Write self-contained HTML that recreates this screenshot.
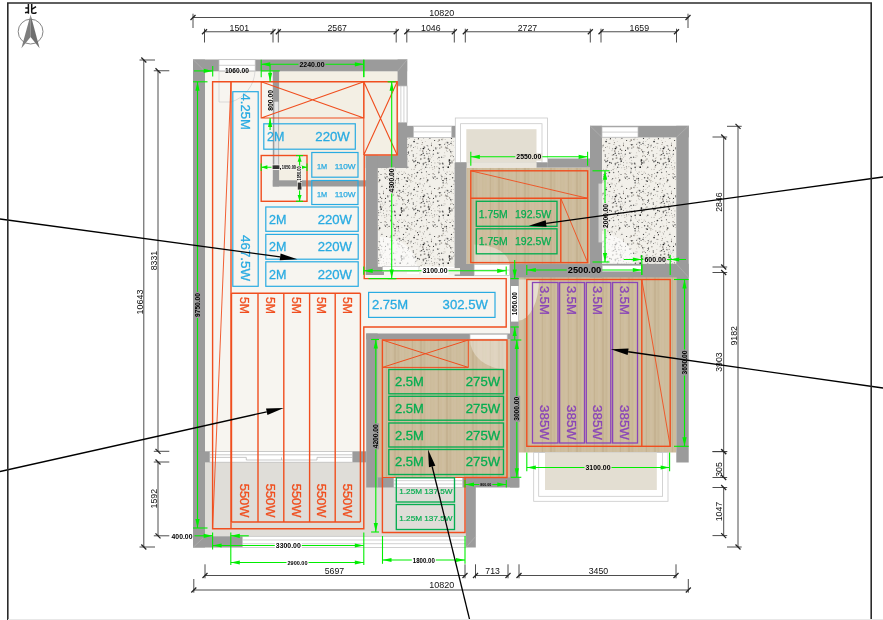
<!DOCTYPE html><html><head><meta charset="utf-8"><style>html,body{margin:0;padding:0;background:#fff}svg{display:block}</style></head><body><div style="will-change:transform;width:883px;height:620px"><svg width="883" height="620" viewBox="0 0 883 620" font-family="Liberation Sans, sans-serif"><g>
<defs>
<pattern id="tz" width="48" height="48" patternUnits="userSpaceOnUse">
<rect width="48" height="48" fill="#f2f0ea"/>
<circle cx="15.5" cy="7.2" r="0.3" fill="#333"/>
<circle cx="39.4" cy="4.5" r="0.85" fill="#1a1a1a"/>
<circle cx="43.7" cy="10.3" r="0.35" fill="#bdb8ae"/>
<circle cx="20.1" cy="11.6" r="0.75" fill="#bdb8ae"/>
<circle cx="2.8" cy="27.1" r="0.45" fill="#c4c0b8"/>
<circle cx="30.1" cy="45.5" r="0.85" fill="#2a2a2a"/>
<circle cx="19.0" cy="46.9" r="0.3" fill="#666"/>
<circle cx="41.2" cy="13.9" r="0.4" fill="#666"/>
<circle cx="5.7" cy="14.8" r="0.4" fill="#333"/>
<circle cx="27.9" cy="30.7" r="0.55" fill="#333"/>
<circle cx="26.3" cy="3.0" r="0.3" fill="#2a2a2a"/>
<circle cx="9.9" cy="32.7" r="0.6" fill="#444"/>
<circle cx="15.1" cy="28.1" r="0.65" fill="#aaa59c"/>
<circle cx="14.4" cy="38.1" r="0.45" fill="#333"/>
<circle cx="27.6" cy="25.2" r="0.55" fill="#b5b1aa"/>
<circle cx="21.5" cy="29.2" r="0.35" fill="#333"/>
<circle cx="24.6" cy="7.9" r="0.55" fill="#555"/>
<circle cx="44.8" cy="20.2" r="0.35" fill="#444"/>
<circle cx="26.8" cy="37.9" r="0.55" fill="#aaa59c"/>
<circle cx="33.4" cy="28.5" r="0.85" fill="#444"/>
<circle cx="21.9" cy="40.3" r="0.5" fill="#888078"/>
<circle cx="33.5" cy="3.1" r="0.5" fill="#c4c0b8"/>
<circle cx="27.7" cy="32.7" r="0.65" fill="#9a958c"/>
<circle cx="34.4" cy="42.6" r="0.55" fill="#1a1a1a"/>
<circle cx="45.2" cy="17.1" r="0.85" fill="#333"/>
<circle cx="23.7" cy="10.5" r="0.5" fill="#555"/>
<circle cx="35.4" cy="19.1" r="0.65" fill="#333"/>
<circle cx="8.0" cy="19.3" r="0.5" fill="#555"/>
<circle cx="39.3" cy="41.5" r="0.5" fill="#b5b1aa"/>
<circle cx="19.9" cy="17.2" r="0.6" fill="#777"/>
<circle cx="7.2" cy="8.5" r="0.45" fill="#c4c0b8"/>
<circle cx="11.2" cy="23.3" r="0.85" fill="#555"/>
<circle cx="12.6" cy="0.2" r="0.6" fill="#666"/>
<circle cx="17.7" cy="27.2" r="0.4" fill="#b5b1aa"/>
<circle cx="41.2" cy="45.6" r="0.3" fill="#888078"/>
<circle cx="43.2" cy="37.4" r="0.75" fill="#bdb8ae"/>
<circle cx="19.1" cy="18.9" r="0.65" fill="#c4c0b8"/>
<circle cx="19.2" cy="9.1" r="0.45" fill="#888078"/>
<circle cx="7.8" cy="16.3" r="0.3" fill="#333"/>
<circle cx="0.0" cy="7.3" r="0.35" fill="#aaa59c"/>
<circle cx="29.5" cy="3.4" r="0.45" fill="#2a2a2a"/>
<circle cx="18.1" cy="30.5" r="0.55" fill="#2a2a2a"/>
<circle cx="17.5" cy="5.9" r="0.65" fill="#888078"/>
<circle cx="23.1" cy="15.0" r="0.4" fill="#333"/>
<circle cx="36.0" cy="35.5" r="0.65" fill="#b5b1aa"/>
<circle cx="7.7" cy="1.1" r="0.75" fill="#aaa59c"/>
<circle cx="7.0" cy="26.1" r="0.3" fill="#444"/>
<circle cx="25.3" cy="47.0" r="0.35" fill="#b5b1aa"/>
<circle cx="40.6" cy="24.9" r="0.4" fill="#aaa59c"/>
<circle cx="37.1" cy="25.6" r="0.75" fill="#aaa59c"/>
<circle cx="30.5" cy="29.4" r="0.45" fill="#444"/>
<circle cx="11.5" cy="19.2" r="0.45" fill="#777"/>
<circle cx="24.8" cy="17.1" r="0.3" fill="#1a1a1a"/>
<circle cx="37.9" cy="22.7" r="0.45" fill="#b5b1aa"/>
<circle cx="29.0" cy="16.5" r="0.55" fill="#aaa59c"/>
<circle cx="3.9" cy="4.9" r="0.65" fill="#777"/>
<circle cx="16.2" cy="23.2" r="0.85" fill="#1a1a1a"/>
<circle cx="23.0" cy="31.3" r="0.35" fill="#c4c0b8"/>
<circle cx="5.8" cy="18.6" r="0.45" fill="#888078"/>
<circle cx="42.7" cy="20.8" r="0.55" fill="#333"/>
<circle cx="38.4" cy="46.6" r="0.6" fill="#888078"/>
<circle cx="19.3" cy="45.4" r="0.4" fill="#555"/>
<circle cx="47.7" cy="1.3" r="0.85" fill="#888078"/>
<circle cx="38.7" cy="7.0" r="0.85" fill="#888078"/>
<circle cx="31.5" cy="16.8" r="0.75" fill="#666"/>
<circle cx="6.3" cy="0.7" r="0.35" fill="#666"/>
<circle cx="36.0" cy="6.7" r="0.45" fill="#777"/>
<circle cx="1.3" cy="10.2" r="0.75" fill="#777"/>
<circle cx="36.7" cy="15.6" r="0.75" fill="#bdb8ae"/>
<circle cx="40.0" cy="2.9" r="0.55" fill="#888078"/>
<circle cx="31.8" cy="39.1" r="0.75" fill="#bdb8ae"/>
<circle cx="39.7" cy="42.2" r="0.4" fill="#666"/>
<circle cx="7.3" cy="24.5" r="0.65" fill="#444"/>
<circle cx="8.8" cy="0.2" r="0.4" fill="#555"/>
<circle cx="6.8" cy="29.7" r="0.35" fill="#666"/>
<circle cx="3.0" cy="32.8" r="0.75" fill="#666"/>
<circle cx="23.2" cy="37.3" r="0.75" fill="#1a1a1a"/>
<circle cx="11.9" cy="13.3" r="0.35" fill="#666"/>
<circle cx="21.7" cy="1.3" r="0.35" fill="#888078"/>
<circle cx="15.6" cy="46.7" r="0.85" fill="#666"/>
<circle cx="9.6" cy="13.3" r="0.75" fill="#666"/>
<circle cx="38.8" cy="24.4" r="0.45" fill="#b5b1aa"/>
<circle cx="25.1" cy="42.0" r="0.5" fill="#666"/>
<circle cx="42.9" cy="9.7" r="0.65" fill="#555"/>
<circle cx="20.0" cy="18.8" r="0.55" fill="#333"/>
<circle cx="32.2" cy="20.6" r="0.45" fill="#c4c0b8"/>
<circle cx="14.5" cy="5.9" r="0.4" fill="#b5b1aa"/>
<circle cx="30.9" cy="17.6" r="0.5" fill="#555"/>
<circle cx="46.4" cy="10.5" r="0.35" fill="#bdb8ae"/>
<circle cx="42.5" cy="7.8" r="0.45" fill="#555"/>
<circle cx="33.9" cy="47.7" r="0.6" fill="#aaa59c"/>
<circle cx="20.2" cy="17.1" r="0.35" fill="#b5b1aa"/>
<circle cx="17.6" cy="16.2" r="0.65" fill="#888078"/>
<circle cx="33.8" cy="18.4" r="0.75" fill="#2a2a2a"/>
<circle cx="14.2" cy="46.1" r="0.35" fill="#444"/>
<circle cx="11.0" cy="42.1" r="0.35" fill="#9a958c"/>
<circle cx="13.1" cy="43.5" r="0.4" fill="#9a958c"/>
<circle cx="36.3" cy="39.3" r="0.5" fill="#bdb8ae"/>
<circle cx="7.2" cy="44.1" r="0.85" fill="#888078"/>
<circle cx="33.6" cy="4.3" r="0.3" fill="#444"/>
<circle cx="33.0" cy="20.4" r="0.35" fill="#9a958c"/>
<circle cx="45.0" cy="30.5" r="0.5" fill="#333"/>
<circle cx="29.2" cy="10.7" r="0.5" fill="#333"/>
<circle cx="21.8" cy="16.3" r="0.75" fill="#bdb8ae"/>
<circle cx="44.5" cy="12.9" r="0.4" fill="#1a1a1a"/>
<circle cx="25.3" cy="11.4" r="0.35" fill="#555"/>
<circle cx="12.6" cy="8.7" r="0.5" fill="#c4c0b8"/>
<circle cx="14.6" cy="36.5" r="0.5" fill="#888078"/>
<circle cx="24.0" cy="8.5" r="0.55" fill="#444"/>
<circle cx="0.9" cy="12.0" r="0.3" fill="#1a1a1a"/>
<circle cx="35.2" cy="26.5" r="0.45" fill="#666"/>
<circle cx="22.8" cy="44.9" r="0.35" fill="#c4c0b8"/>
<circle cx="39.3" cy="20.7" r="0.65" fill="#666"/>
<circle cx="40.1" cy="18.9" r="0.75" fill="#9a958c"/>
<circle cx="33.0" cy="47.2" r="0.55" fill="#777"/>
<circle cx="39.9" cy="33.9" r="0.4" fill="#bdb8ae"/>
<circle cx="47.5" cy="47.1" r="0.4" fill="#1a1a1a"/>
<circle cx="3.4" cy="35.6" r="0.5" fill="#bdb8ae"/>
<circle cx="7.8" cy="4.1" r="0.6" fill="#666"/>
<circle cx="32.2" cy="13.5" r="0.45" fill="#b5b1aa"/>
<circle cx="14.1" cy="22.1" r="0.4" fill="#9a958c"/>
<circle cx="21.4" cy="12.6" r="0.55" fill="#666"/>
<circle cx="15.5" cy="1.7" r="0.5" fill="#777"/>
<circle cx="17.1" cy="0.1" r="0.6" fill="#333"/>
<circle cx="22.8" cy="24.1" r="0.45" fill="#777"/>
<circle cx="24.2" cy="0.2" r="0.5" fill="#333"/>
<circle cx="6.9" cy="28.2" r="0.6" fill="#1a1a1a"/>
<circle cx="14.4" cy="30.2" r="0.35" fill="#2a2a2a"/>
<circle cx="46.0" cy="41.0" r="0.4" fill="#c4c0b8"/>
<circle cx="42.9" cy="37.6" r="0.85" fill="#bdb8ae"/>
<circle cx="36.7" cy="34.6" r="0.65" fill="#555"/>
<circle cx="13.6" cy="29.7" r="0.4" fill="#1a1a1a"/>
<circle cx="39.6" cy="34.3" r="0.75" fill="#c4c0b8"/>
<circle cx="20.6" cy="33.7" r="0.75" fill="#555"/>
<circle cx="43.7" cy="36.1" r="0.85" fill="#444"/>
<circle cx="0.8" cy="33.0" r="0.45" fill="#333"/>
<circle cx="1.5" cy="6.4" r="0.55" fill="#333"/>
<circle cx="18.1" cy="21.7" r="0.3" fill="#c4c0b8"/>
<circle cx="0.9" cy="25.5" r="0.45" fill="#888078"/>
<circle cx="12.7" cy="21.9" r="0.35" fill="#b5b1aa"/>
<circle cx="44.8" cy="43.1" r="0.35" fill="#c4c0b8"/>
<circle cx="25.2" cy="35.8" r="0.65" fill="#9a958c"/>
<circle cx="38.8" cy="40.6" r="0.45" fill="#b5b1aa"/>
<circle cx="36.3" cy="11.1" r="0.65" fill="#888078"/>
<circle cx="40.6" cy="3.7" r="0.5" fill="#444"/>
<circle cx="2.2" cy="30.4" r="0.45" fill="#333"/>
<circle cx="28.8" cy="15.9" r="0.5" fill="#2a2a2a"/>
<circle cx="27.3" cy="0.6" r="0.3" fill="#888078"/>
<circle cx="12.9" cy="32.3" r="0.45" fill="#c4c0b8"/>
<circle cx="23.5" cy="34.0" r="0.5" fill="#888078"/>
<circle cx="22.4" cy="36.8" r="0.75" fill="#777"/>
<circle cx="15.0" cy="4.1" r="0.65" fill="#1a1a1a"/>
<circle cx="13.9" cy="3.7" r="0.75" fill="#888078"/>
<circle cx="47.7" cy="18.6" r="0.45" fill="#333"/>
<circle cx="27.9" cy="6.8" r="0.75" fill="#9a958c"/>
<circle cx="45.7" cy="6.4" r="0.75" fill="#9a958c"/>
<circle cx="42.6" cy="33.8" r="0.45" fill="#888078"/>
<circle cx="43.1" cy="23.3" r="0.3" fill="#555"/>
<circle cx="0.2" cy="23.6" r="0.65" fill="#bdb8ae"/>
<circle cx="14.5" cy="6.8" r="0.55" fill="#bdb8ae"/>
<circle cx="15.2" cy="40.3" r="0.3" fill="#aaa59c"/>
<circle cx="36.0" cy="40.3" r="0.35" fill="#777"/>
<circle cx="34.2" cy="43.3" r="0.5" fill="#9a958c"/>
<circle cx="17.9" cy="18.9" r="0.85" fill="#333"/>
<circle cx="17.3" cy="20.5" r="0.5" fill="#1a1a1a"/>
<circle cx="13.5" cy="2.5" r="0.5" fill="#c4c0b8"/>
<circle cx="44.9" cy="12.0" r="0.5" fill="#bdb8ae"/>
<circle cx="24.5" cy="9.1" r="0.55" fill="#444"/>
<circle cx="45.9" cy="42.4" r="0.6" fill="#666"/>
<circle cx="26.4" cy="34.5" r="0.3" fill="#b5b1aa"/>
<circle cx="19.7" cy="29.5" r="0.4" fill="#c4c0b8"/>
<circle cx="41.7" cy="23.3" r="0.75" fill="#555"/>
<circle cx="8.2" cy="19.9" r="0.5" fill="#9a958c"/>
<circle cx="12.3" cy="35.5" r="0.5" fill="#bdb8ae"/>
<circle cx="31.5" cy="14.4" r="0.75" fill="#c4c0b8"/>
<circle cx="18.9" cy="8.0" r="0.4" fill="#333"/>
<circle cx="10.0" cy="43.5" r="0.65" fill="#666"/>
<circle cx="10.6" cy="43.5" r="0.65" fill="#bdb8ae"/>
<circle cx="6.7" cy="9.2" r="0.35" fill="#555"/>
<circle cx="16.4" cy="4.4" r="0.45" fill="#aaa59c"/>
<circle cx="12.4" cy="27.3" r="0.3" fill="#b5b1aa"/>
<circle cx="41.8" cy="18.4" r="0.75" fill="#777"/>
<circle cx="18.1" cy="16.2" r="0.3" fill="#888078"/>
<circle cx="13.3" cy="46.4" r="0.4" fill="#c4c0b8"/>
<circle cx="24.2" cy="30.2" r="0.45" fill="#333"/>
<circle cx="13.0" cy="11.9" r="0.6" fill="#c4c0b8"/>
<circle cx="21.4" cy="45.8" r="0.3" fill="#555"/>
<circle cx="1.5" cy="34.1" r="0.65" fill="#2a2a2a"/>
<circle cx="23.5" cy="3.5" r="0.75" fill="#888078"/>
<circle cx="46.7" cy="11.9" r="0.35" fill="#777"/>
<circle cx="7.4" cy="25.1" r="0.35" fill="#b5b1aa"/>
<circle cx="33.6" cy="40.6" r="0.65" fill="#333"/>
<circle cx="26.5" cy="1.9" r="0.4" fill="#777"/>
<circle cx="27.3" cy="1.8" r="0.5" fill="#555"/>
<circle cx="30.1" cy="25.4" r="0.6" fill="#b5b1aa"/>
<circle cx="36.7" cy="4.8" r="0.5" fill="#666"/>
<circle cx="45.3" cy="9.2" r="0.5" fill="#777"/>
<circle cx="37.9" cy="0.1" r="0.75" fill="#9a958c"/>
<circle cx="47.8" cy="13.4" r="0.55" fill="#c4c0b8"/>
<circle cx="40.3" cy="11.6" r="0.75" fill="#777"/>
<circle cx="26.3" cy="1.4" r="0.6" fill="#b5b1aa"/>
<circle cx="31.2" cy="2.7" r="0.45" fill="#888078"/>
<circle cx="42.5" cy="31.1" r="0.35" fill="#9a958c"/>
<circle cx="10.9" cy="20.4" r="0.55" fill="#777"/>
<circle cx="23.7" cy="33.4" r="0.6" fill="#aaa59c"/>
<circle cx="32.8" cy="9.5" r="0.5" fill="#b5b1aa"/>
<circle cx="40.6" cy="3.2" r="0.65" fill="#777"/>
<circle cx="15.0" cy="39.4" r="0.45" fill="#888078"/>
<circle cx="10.6" cy="36.5" r="0.5" fill="#333"/>
<circle cx="45.7" cy="23.8" r="0.4" fill="#777"/>
<circle cx="23.3" cy="43.7" r="0.3" fill="#2a2a2a"/>
<circle cx="7.0" cy="18.9" r="0.45" fill="#1a1a1a"/>
<circle cx="46.8" cy="6.8" r="0.3" fill="#b5b1aa"/>
<circle cx="2.9" cy="18.9" r="0.55" fill="#b5b1aa"/>
<circle cx="5.4" cy="3.8" r="0.4" fill="#aaa59c"/>
<circle cx="9.2" cy="31.3" r="0.75" fill="#b5b1aa"/>
<circle cx="22.4" cy="15.0" r="0.6" fill="#aaa59c"/>
<circle cx="47.3" cy="21.2" r="0.35" fill="#1a1a1a"/>
<circle cx="3.8" cy="3.9" r="0.6" fill="#333"/>
<circle cx="26.9" cy="36.4" r="0.6" fill="#aaa59c"/>
<circle cx="36.9" cy="14.8" r="0.6" fill="#333"/>
<circle cx="2.4" cy="22.7" r="0.55" fill="#666"/>
<circle cx="44.1" cy="9.3" r="0.55" fill="#b5b1aa"/>
<circle cx="43.1" cy="1.5" r="0.6" fill="#777"/>
<circle cx="39.0" cy="36.8" r="0.3" fill="#bdb8ae"/>
<circle cx="1.7" cy="3.0" r="0.3" fill="#9a958c"/>
<circle cx="9.4" cy="3.0" r="0.85" fill="#aaa59c"/>
<circle cx="17.4" cy="16.1" r="0.85" fill="#1a1a1a"/>
<circle cx="12.6" cy="34.4" r="0.55" fill="#9a958c"/>
<circle cx="14.3" cy="34.6" r="0.85" fill="#444"/>
<circle cx="30.4" cy="45.3" r="0.3" fill="#777"/>
<circle cx="5.1" cy="34.3" r="0.65" fill="#444"/>
<circle cx="18.6" cy="12.1" r="0.6" fill="#888078"/>
<circle cx="6.4" cy="23.8" r="0.3" fill="#444"/>
<circle cx="44.7" cy="14.6" r="0.4" fill="#2a2a2a"/>
<circle cx="11.3" cy="41.3" r="0.65" fill="#aaa59c"/>
<circle cx="37.6" cy="28.6" r="0.75" fill="#777"/>
<circle cx="18.8" cy="7.7" r="0.6" fill="#333"/>
<circle cx="31.2" cy="23.1" r="0.75" fill="#aaa59c"/>
<circle cx="7.7" cy="20.5" r="0.35" fill="#333"/>
<circle cx="12.7" cy="4.0" r="0.35" fill="#bdb8ae"/>
<circle cx="23.9" cy="34.1" r="0.65" fill="#555"/>
<circle cx="11.2" cy="20.0" r="0.85" fill="#c4c0b8"/>
<circle cx="11.3" cy="25.9" r="0.35" fill="#444"/>
<circle cx="40.4" cy="14.1" r="0.85" fill="#9a958c"/>
<circle cx="17.9" cy="35.4" r="0.45" fill="#888078"/>
<circle cx="11.9" cy="11.8" r="0.4" fill="#9a958c"/>
<circle cx="42.4" cy="27.8" r="0.55" fill="#333"/>
<circle cx="19.0" cy="47.6" r="0.75" fill="#666"/>
<circle cx="11.1" cy="38.8" r="0.65" fill="#1a1a1a"/>
<circle cx="4.9" cy="22.8" r="0.45" fill="#888078"/>
<circle cx="43.9" cy="1.9" r="0.5" fill="#777"/>
<circle cx="5.7" cy="9.1" r="0.85" fill="#777"/>
<circle cx="44.6" cy="17.9" r="0.4" fill="#888078"/>
<circle cx="28.9" cy="37.2" r="0.3" fill="#333"/>
<circle cx="30.6" cy="34.1" r="0.55" fill="#777"/>
<circle cx="1.8" cy="16.3" r="0.3" fill="#777"/>
<circle cx="48.0" cy="1.8" r="0.45" fill="#1a1a1a"/>
<circle cx="39.3" cy="19.6" r="0.55" fill="#555"/>
<circle cx="29.8" cy="3.7" r="0.3" fill="#444"/>
<circle cx="23.8" cy="23.2" r="0.6" fill="#333"/>
<circle cx="38.2" cy="31.9" r="0.4" fill="#c4c0b8"/>
<circle cx="25.6" cy="31.3" r="0.6" fill="#b5b1aa"/>
<circle cx="13.0" cy="47.4" r="0.5" fill="#bdb8ae"/>
<circle cx="45.8" cy="15.0" r="0.85" fill="#aaa59c"/>
<circle cx="19.9" cy="0.9" r="0.55" fill="#c4c0b8"/>
<circle cx="9.5" cy="34.9" r="0.45" fill="#1a1a1a"/>
<circle cx="20.8" cy="7.5" r="0.35" fill="#333"/>
<circle cx="19.5" cy="42.4" r="0.65" fill="#444"/>
<circle cx="7.8" cy="0.7" r="0.75" fill="#555"/>
<circle cx="30.8" cy="43.7" r="0.35" fill="#2a2a2a"/>
<circle cx="29.9" cy="17.8" r="0.75" fill="#555"/>
<circle cx="7.0" cy="13.6" r="0.75" fill="#555"/>
<circle cx="44.4" cy="5.2" r="0.65" fill="#444"/>
<circle cx="38.6" cy="46.4" r="0.45" fill="#9a958c"/>
<circle cx="6.1" cy="45.3" r="0.65" fill="#aaa59c"/>
<circle cx="2.6" cy="44.5" r="0.6" fill="#333"/>
<circle cx="43.4" cy="29.8" r="0.4" fill="#c4c0b8"/>
<circle cx="37.7" cy="10.7" r="0.6" fill="#2a2a2a"/>
<circle cx="40.6" cy="39.8" r="0.4" fill="#2a2a2a"/>
<circle cx="10.5" cy="19.2" r="0.75" fill="#555"/>
<circle cx="18.4" cy="5.9" r="0.45" fill="#b5b1aa"/>
<circle cx="39.2" cy="9.2" r="0.75" fill="#444"/>
<circle cx="32.3" cy="32.1" r="0.55" fill="#333"/>
<circle cx="18.7" cy="21.9" r="0.5" fill="#c4c0b8"/>
<circle cx="20.2" cy="28.0" r="0.6" fill="#bdb8ae"/>
<circle cx="31.6" cy="21.4" r="0.65" fill="#555"/>
<circle cx="1.1" cy="29.7" r="0.65" fill="#888078"/>
<circle cx="11.3" cy="36.7" r="0.65" fill="#555"/>
<circle cx="38.9" cy="19.2" r="0.35" fill="#555"/>
<circle cx="17.2" cy="17.5" r="0.65" fill="#666"/>
<circle cx="24.5" cy="2.0" r="0.4" fill="#333"/>
<circle cx="44.3" cy="15.1" r="0.75" fill="#333"/>
<circle cx="2.6" cy="24.2" r="0.6" fill="#c4c0b8"/>
<circle cx="45.6" cy="6.5" r="0.35" fill="#2a2a2a"/>
<circle cx="35.1" cy="39.1" r="0.45" fill="#555"/>
<circle cx="47.1" cy="23.6" r="0.4" fill="#c4c0b8"/>
<circle cx="37.8" cy="44.7" r="0.35" fill="#aaa59c"/>
<circle cx="29.3" cy="12.1" r="0.55" fill="#2a2a2a"/>
<circle cx="13.2" cy="39.2" r="0.4" fill="#9a958c"/>
</pattern>
<pattern id="wd" width="26" height="40" patternUnits="userSpaceOnUse">
<rect width="26" height="40" fill="#ccbb9b"/>
<rect x="0.0" y="0" width="2.5" height="40" fill="#d1c1a3" opacity="0.55"/>
<rect x="4.0" y="0" width="2" height="40" fill="#bfab89" opacity="0.55"/>
<rect x="7.5" y="0" width="1.5" height="40" fill="#c5b391" opacity="0.55"/>
<rect x="10.0" y="0" width="1" height="40" fill="#d1c1a3" opacity="0.55"/>
<rect x="11.5" y="0" width="2.5" height="40" fill="#d1c1a3" opacity="0.55"/>
<rect x="15.5" y="0" width="2" height="40" fill="#cfbfa0" opacity="0.55"/>
<rect x="18.5" y="0" width="2.5" height="40" fill="#d1c1a3" opacity="0.55"/>
<rect x="22.0" y="0" width="1" height="40" fill="#bfab89" opacity="0.55"/>
<rect x="23.5" y="0" width="2" height="40" fill="#cdbc9d" opacity="0.55"/>
</pattern>
</defs>
<rect x="0.00" y="0.00" width="883.00" height="620.00" fill="#ffffff" />
<rect x="193.00" y="59.50" width="214.00" height="488.00" fill="#f7f5f0" />
<rect x="279.00" y="71.50" width="119.00" height="109.00" fill="#f3efe4" />
<rect x="364.00" y="274.00" width="148.00" height="61.00" fill="#f7f5f0" />
<rect x="205.00" y="462.30" width="161.50" height="74.20" fill="#dfddd8" />
<rect x="364.00" y="487.00" width="102.00" height="49.50" fill="#dfddd8" />
<path d="M407.2 137.5H454.6V267H378V167.9H407.2Z" fill="url(#tz)"/>
<rect x="601.80" y="137.30" width="74.50" height="126.70" fill="url(#tz)" />
<rect x="466.30" y="167.60" width="123.70" height="97.40" fill="url(#wd)" />
<rect x="518.70" y="277.00" width="157.60" height="175.50" fill="url(#wd)" />
<rect x="377.50" y="339.30" width="132.70" height="138.00" fill="url(#wd)" />
<rect x="455.30" y="118.00" width="92.20" height="44.60" fill="#ffffff" stroke="#c9c9c9" stroke-width="0.8"/>
<rect x="460.60" y="123.70" width="81.40" height="38.90" fill="none" stroke="#c9c9c9" stroke-width="0.8" />
<rect x="466.30" y="129.20" width="70.20" height="33.40" fill="#e3ded2" />
<rect x="466.30" y="162.50" width="70.20" height="5.10" fill="#e9e5dc" />
<rect x="533.70" y="452.50" width="134.30" height="48.80" fill="#ffffff" stroke="#c9c9c9" stroke-width="0.8"/>
<rect x="538.70" y="452.50" width="123.90" height="43.80" fill="none" stroke="#c9c9c9" stroke-width="0.8" />
<rect x="545.00" y="452.50" width="111.80" height="37.50" fill="#e3ded2" />
<path d="M474.4 264.5 V244.5 A35 20 0 0 1 509.4 264.5Z" fill="#fff" opacity="0.4"/>
<path d="M518.7 279.5 H539 A20.5 41 0 0 1 518.7 320.5Z" fill="#fff" opacity="0.5"/>
<path d="M470 339.5 H507 V369.5 A37 30 0 0 1 470 339.5Z" fill="#fff" opacity="0.35"/>
<path d="M380 267 V237 A37 30 0 0 1 417 267Z" fill="#fff" opacity="0.6"/>
<path d="M602 264 V234 A33 30 0 0 1 635 264Z" fill="#fff" opacity="0.6"/>
<rect x="193.00" y="59.50" width="12.00" height="488.00" fill="#9b9b9b" />
<rect x="193.00" y="59.50" width="214.20" height="11.80" fill="#9b9b9b" />
<rect x="397.60" y="59.50" width="9.60" height="108.50" fill="#9b9b9b" />
<rect x="365.80" y="155.60" width="41.40" height="12.40" fill="#9b9b9b" />
<rect x="365.80" y="155.60" width="12.00" height="119.40" fill="#9b9b9b" />
<rect x="272.80" y="71.00" width="6.30" height="115.50" fill="#9b9b9b" />
<rect x="272.80" y="180.30" width="93.20" height="6.20" fill="#9b9b9b" />
<rect x="407.00" y="125.80" width="48.20" height="11.80" fill="#9b9b9b" />
<rect x="454.60" y="162.80" width="11.80" height="113.20" fill="#9b9b9b" />
<rect x="365.80" y="266.80" width="18.20" height="8.20" fill="#9b9b9b" />
<rect x="460.00" y="264.00" width="14.00" height="12.00" fill="#9b9b9b" />
<rect x="547.90" y="158.50" width="42.10" height="9.10" fill="#9b9b9b" />
<rect x="455.00" y="162.50" width="11.40" height="5.10" fill="#9b9b9b" />
<rect x="536.50" y="162.50" width="11.40" height="5.10" fill="#9b9b9b" />
<rect x="590.00" y="125.80" width="12.00" height="151.70" fill="#9b9b9b" />
<rect x="590.00" y="125.80" width="98.70" height="11.60" fill="#9b9b9b" />
<rect x="676.30" y="125.80" width="12.40" height="336.70" fill="#9b9b9b" />
<rect x="510.00" y="263.80" width="178.70" height="13.60" fill="#9b9b9b" />
<rect x="510.00" y="264.00" width="8.80" height="223.50" fill="#9b9b9b" />
<rect x="366.20" y="333.50" width="144.00" height="5.90" fill="#9b9b9b" />
<rect x="366.20" y="333.50" width="11.40" height="154.00" fill="#9b9b9b" />
<rect x="193.00" y="451.30" width="17.00" height="11.10" fill="#9b9b9b" />
<rect x="352.50" y="451.30" width="13.80" height="11.10" fill="#9b9b9b" />
<rect x="377.50" y="477.20" width="16.50" height="10.30" fill="#9b9b9b" />
<rect x="462.50" y="477.20" width="57.00" height="10.30" fill="#9b9b9b" />
<rect x="465.80" y="487.00" width="10.00" height="60.50" fill="#9b9b9b" />
<rect x="193.00" y="536.30" width="49.50" height="11.20" fill="#9b9b9b" />
<line x1="193.00" y1="59.50" x2="205.00" y2="71.30" stroke="#b4b4b4" stroke-width="0.6" />
<line x1="193.00" y1="547.50" x2="205.00" y2="536.30" stroke="#b4b4b4" stroke-width="0.6" />
<line x1="407.20" y1="59.50" x2="397.60" y2="71.30" stroke="#b4b4b4" stroke-width="0.6" />
<line x1="590.00" y1="125.80" x2="602.00" y2="137.40" stroke="#b4b4b4" stroke-width="0.6" />
<line x1="688.70" y1="125.80" x2="676.30" y2="137.40" stroke="#b4b4b4" stroke-width="0.6" />
<line x1="688.70" y1="277.40" x2="676.30" y2="263.80" stroke="#b4b4b4" stroke-width="0.6" />
<line x1="465.80" y1="547.50" x2="475.80" y2="536.30" stroke="#b4b4b4" stroke-width="0.6" />
<rect x="598.50" y="183.60" width="3.50" height="58.80" fill="#d2d2d0" />
<rect x="219.00" y="59.70" width="36.20" height="11.20" fill="#ffffff" stroke="#bdbdbd" stroke-width="0.7"/>
<line x1="219.00" y1="65.30" x2="255.20" y2="65.30" stroke="#bdbdbd" stroke-width="0.7" />
<rect x="397.80" y="86.00" width="9.20" height="36.50" fill="#ffffff" stroke="#bdbdbd" stroke-width="0.7"/>
<line x1="400.87" y1="86.00" x2="400.87" y2="122.50" stroke="#bdbdbd" stroke-width="0.7" />
<line x1="403.93" y1="86.00" x2="403.93" y2="122.50" stroke="#bdbdbd" stroke-width="0.7" />
<rect x="413.40" y="126.30" width="38.30" height="11.20" fill="#ffffff" stroke="#bdbdbd" stroke-width="0.7"/>
<line x1="413.40" y1="131.90" x2="451.70" y2="131.90" stroke="#bdbdbd" stroke-width="0.7" />
<rect x="602.00" y="127.00" width="36.00" height="10.20" fill="#ffffff" stroke="#bdbdbd" stroke-width="0.7"/>
<line x1="602.00" y1="132.10" x2="638.00" y2="132.10" stroke="#bdbdbd" stroke-width="0.7" />
<rect x="474.20" y="264.60" width="35.30" height="11.00" fill="#ffffff" stroke="#bdbdbd" stroke-width="0.7"/>
<line x1="474.20" y1="270.10" x2="509.50" y2="270.10" stroke="#bdbdbd" stroke-width="0.7" />
<rect x="382.50" y="266.50" width="36.50" height="5.00" fill="#ffffff" stroke="#bdbdbd" stroke-width="0.7"/>
<rect x="419.00" y="268.00" width="41.00" height="6.50" fill="#f1efea" />
<rect x="602.00" y="265.50" width="39.50" height="6.10" fill="#ffffff" stroke="#bdbdbd" stroke-width="0.7"/>
<rect x="470.00" y="334.30" width="37.20" height="4.90" fill="#ffffff" stroke="#bdbdbd" stroke-width="0.7"/>
<rect x="209.80" y="451.40" width="142.70" height="10.80" fill="#ffffff" stroke="#b5b5b5" stroke-width="0.7"/>
<path d="M209.8 454.8H352.5M209.8 457.4H246.3V460H317V457.4H352.5M281.5 457.4V460" fill="none" stroke="#b0b0b0" stroke-width="0.7"/>
<rect x="393.80" y="477.30" width="68.70" height="10.10" fill="#ffffff" stroke="#bdbdbd" stroke-width="0.7"/>
<line x1="393.80" y1="480.67" x2="462.50" y2="480.67" stroke="#bdbdbd" stroke-width="0.7" />
<line x1="393.80" y1="484.03" x2="462.50" y2="484.03" stroke="#bdbdbd" stroke-width="0.7" />
<rect x="242.50" y="536.30" width="223.30" height="11.10" fill="#ffffff" stroke="#bdbdbd" stroke-width="0.7"/>
<line x1="242.50" y1="540.00" x2="465.80" y2="540.00" stroke="#bdbdbd" stroke-width="0.7" />
<line x1="242.50" y1="543.70" x2="465.80" y2="543.70" stroke="#bdbdbd" stroke-width="0.7" />
<rect x="274.30" y="101.70" width="4.10" height="68.30" fill="#e6e6e6" />
<path d="M219 71 V102 H231 M231 102 A 34 34 0 0 0 255 71" fill="none" stroke="#cfcfcf" stroke-width="0.7"/>
<g fill="none" stroke="#f04e1e" stroke-width="1.4" stroke-linejoin="miter">
<path d="M212.6 81.8H397.2V155H364.2V278.6H506.2V327H363.8V528.8H212.6Z"/>
<path d="M231 81.8V528.8"/>
<path d="M231 81.8L212.6 528.8" stroke-width="0.9"/>
<path d="M261.2 81.8V118H363.8V81.8M261.2 81.8L363.8 118M261.2 118L363.8 81.8" stroke-width="1.1"/>
<path d="M363.8 81.8V155M363.8 81.8L397.2 155M363.8 155L397.2 81.8" stroke-width="1.1"/>
<rect x="261.2" y="155.5" width="45.8" height="45.8"/>
<path d="M231.5 293.2V522"/>
<path d="M258 293.2V522"/>
<path d="M283.8 293.2V522"/>
<path d="M309.6 293.2V522"/>
<path d="M335.2 293.2V522"/>
<path d="M360.4 293.2V522"/>
<path d="M231.5 293.2H360.4M231.5 522H360.4"/>
<rect x="470.8" y="170.8" width="116.9" height="91.8"/>
<path d="M470.8 198.3H587.7M560.8 198.3V262.6"/>
<path d="M470.8 170.8L587.7 198.3M560.8 198.3L587.7 262.6" stroke-width="0.9"/>
<rect x="526.8" y="279.5" width="143.4" height="166.8"/>
<path d="M641.8 279.5V446.3"/>
<path d="M641.8 279.5L670.2 446.3" stroke-width="0.9"/>
<path d="M382.4 340H507V477.5H465V532.5H382.4Z"/>
<path d="M382.4 367.4H468.3V340M382.4 340L468.3 367.4M382.4 367.4L468.3 340" stroke-width="1.0"/>
<path d="M382.4 477.5H465" stroke-width="1.0"/>
</g>
<g fill="none" stroke="#29abe2" stroke-width="1.2">
<rect x="232.8" y="91.7" width="25.40" height="194.60"/>
<rect x="263.8" y="123.8" width="91.50" height="25.40"/>
<rect x="311.8" y="152.5" width="46.20" height="24.70"/>
<rect x="311.8" y="180.5" width="46.20" height="24.00"/>
<rect x="265.8" y="207" width="92.40" height="24.30"/>
<rect x="265.8" y="234.4" width="92.40" height="24.80"/>
<rect x="265.8" y="261.8" width="92.40" height="24.50"/>
<rect x="368.6" y="292.4" width="126.40" height="25.00"/>
</g>
<text x="267.00" y="141.20" font-size="13" fill="#29abe2" text-anchor="start" font-weight="normal" textLength="17.40" lengthAdjust="spacingAndGlyphs" stroke="#29abe2" stroke-width="0.3">2M</text>
<text x="315.30" y="141.20" font-size="13" fill="#29abe2" text-anchor="start" font-weight="normal" textLength="34.50" lengthAdjust="spacingAndGlyphs" stroke="#29abe2" stroke-width="0.3">220W</text>
<text x="269.10" y="223.90" font-size="13" fill="#29abe2" text-anchor="start" font-weight="normal" textLength="17.40" lengthAdjust="spacingAndGlyphs" stroke="#29abe2" stroke-width="0.3">2M</text>
<text x="317.70" y="223.90" font-size="13" fill="#29abe2" text-anchor="start" font-weight="normal" textLength="34.30" lengthAdjust="spacingAndGlyphs" stroke="#29abe2" stroke-width="0.3">220W</text>
<text x="269.10" y="251.30" font-size="13" fill="#29abe2" text-anchor="start" font-weight="normal" textLength="17.40" lengthAdjust="spacingAndGlyphs" stroke="#29abe2" stroke-width="0.3">2M</text>
<text x="317.70" y="251.30" font-size="13" fill="#29abe2" text-anchor="start" font-weight="normal" textLength="34.30" lengthAdjust="spacingAndGlyphs" stroke="#29abe2" stroke-width="0.3">220W</text>
<text x="269.10" y="278.70" font-size="13" fill="#29abe2" text-anchor="start" font-weight="normal" textLength="17.40" lengthAdjust="spacingAndGlyphs" stroke="#29abe2" stroke-width="0.3">2M</text>
<text x="317.70" y="278.70" font-size="13" fill="#29abe2" text-anchor="start" font-weight="normal" textLength="34.30" lengthAdjust="spacingAndGlyphs" stroke="#29abe2" stroke-width="0.3">220W</text>
<text x="372.00" y="309.40" font-size="13" fill="#29abe2" text-anchor="start" font-weight="normal" textLength="36.20" lengthAdjust="spacingAndGlyphs" stroke="#29abe2" stroke-width="0.3">2.75M</text>
<text x="442.60" y="309.40" font-size="13" fill="#29abe2" text-anchor="start" font-weight="normal" textLength="45.30" lengthAdjust="spacingAndGlyphs" stroke="#29abe2" stroke-width="0.3">302.5W</text>
<text x="316.90" y="168.90" font-size="8" fill="#29abe2" text-anchor="start" font-weight="normal" textLength="10.20" lengthAdjust="spacingAndGlyphs" stroke="#29abe2" stroke-width="0.25">1M</text>
<text x="334.70" y="168.90" font-size="8" fill="#29abe2" text-anchor="start" font-weight="normal" textLength="20.90" lengthAdjust="spacingAndGlyphs" stroke="#29abe2" stroke-width="0.25">110W</text>
<text x="316.90" y="196.60" font-size="8" fill="#29abe2" text-anchor="start" font-weight="normal" textLength="10.20" lengthAdjust="spacingAndGlyphs" stroke="#29abe2" stroke-width="0.25">1M</text>
<text x="334.70" y="196.60" font-size="8" fill="#29abe2" text-anchor="start" font-weight="normal" textLength="20.90" lengthAdjust="spacingAndGlyphs" stroke="#29abe2" stroke-width="0.25">110W</text>
<text x="240.60" y="93.60" font-size="13" fill="#29abe2" text-anchor="start" font-weight="normal" transform="rotate(90 240.60 93.60)" textLength="36.30" lengthAdjust="spacingAndGlyphs" stroke="#29abe2" stroke-width="0.3">4.25M</text>
<text x="240.80" y="235.00" font-size="13" fill="#29abe2" text-anchor="start" font-weight="normal" transform="rotate(90 240.80 235.00)" textLength="46.20" lengthAdjust="spacingAndGlyphs" stroke="#29abe2" stroke-width="0.3">467.5W</text>
<text x="240.40" y="297.00" font-size="13" fill="#f04e1e" text-anchor="start" font-weight="normal" transform="rotate(90 240.40 297.00)" textLength="17.00" lengthAdjust="spacingAndGlyphs" stroke="#f04e1e" stroke-width="0.3">5M</text>
<text x="240.40" y="483.70" font-size="13" fill="#f04e1e" text-anchor="start" font-weight="normal" transform="rotate(90 240.40 483.70)" textLength="33.80" lengthAdjust="spacingAndGlyphs" stroke="#f04e1e" stroke-width="0.3">550W</text>
<text x="266.00" y="297.00" font-size="13" fill="#f04e1e" text-anchor="start" font-weight="normal" transform="rotate(90 266.00 297.00)" textLength="17.00" lengthAdjust="spacingAndGlyphs" stroke="#f04e1e" stroke-width="0.3">5M</text>
<text x="266.00" y="483.70" font-size="13" fill="#f04e1e" text-anchor="start" font-weight="normal" transform="rotate(90 266.00 483.70)" textLength="33.80" lengthAdjust="spacingAndGlyphs" stroke="#f04e1e" stroke-width="0.3">550W</text>
<text x="291.70" y="297.00" font-size="13" fill="#f04e1e" text-anchor="start" font-weight="normal" transform="rotate(90 291.70 297.00)" textLength="17.00" lengthAdjust="spacingAndGlyphs" stroke="#f04e1e" stroke-width="0.3">5M</text>
<text x="291.70" y="483.70" font-size="13" fill="#f04e1e" text-anchor="start" font-weight="normal" transform="rotate(90 291.70 483.70)" textLength="33.80" lengthAdjust="spacingAndGlyphs" stroke="#f04e1e" stroke-width="0.3">550W</text>
<text x="317.40" y="297.00" font-size="13" fill="#f04e1e" text-anchor="start" font-weight="normal" transform="rotate(90 317.40 297.00)" textLength="17.00" lengthAdjust="spacingAndGlyphs" stroke="#f04e1e" stroke-width="0.3">5M</text>
<text x="317.40" y="483.70" font-size="13" fill="#f04e1e" text-anchor="start" font-weight="normal" transform="rotate(90 317.40 483.70)" textLength="33.80" lengthAdjust="spacingAndGlyphs" stroke="#f04e1e" stroke-width="0.3">550W</text>
<text x="343.00" y="297.00" font-size="13" fill="#f04e1e" text-anchor="start" font-weight="normal" transform="rotate(90 343.00 297.00)" textLength="17.00" lengthAdjust="spacingAndGlyphs" stroke="#f04e1e" stroke-width="0.3">5M</text>
<text x="343.00" y="483.70" font-size="13" fill="#f04e1e" text-anchor="start" font-weight="normal" transform="rotate(90 343.00 483.70)" textLength="33.80" lengthAdjust="spacingAndGlyphs" stroke="#f04e1e" stroke-width="0.3">550W</text>
<g fill="none" stroke="#06ad50" stroke-width="1.35">
<rect x="476.3" y="201.3" width="80.70" height="25.00"/>
<rect x="476.3" y="228.8" width="80.70" height="25.00"/>
<rect x="388.8" y="369.5" width="114.70" height="24.30"/>
<rect x="388.8" y="396.3" width="114.70" height="23.90"/>
<rect x="388.8" y="423" width="114.70" height="24.00"/>
<rect x="388.8" y="449.5" width="114.70" height="25.00"/>
<rect x="396.3" y="477.8" width="58.20" height="24.20"/>
<rect x="396.3" y="504.5" width="58.20" height="25.00"/>
</g>
<text x="478.80" y="217.80" font-size="11" fill="#06ad50" text-anchor="start" font-weight="normal" textLength="29.00" lengthAdjust="spacingAndGlyphs" stroke="#06ad50" stroke-width="0.25">1.75M</text>
<text x="515.00" y="217.80" font-size="11" fill="#06ad50" text-anchor="start" font-weight="normal" textLength="36.30" lengthAdjust="spacingAndGlyphs" stroke="#06ad50" stroke-width="0.25">192.5W</text>
<text x="478.80" y="245.30" font-size="11" fill="#06ad50" text-anchor="start" font-weight="normal" textLength="29.00" lengthAdjust="spacingAndGlyphs" stroke="#06ad50" stroke-width="0.25">1.75M</text>
<text x="515.00" y="245.30" font-size="11" fill="#06ad50" text-anchor="start" font-weight="normal" textLength="36.30" lengthAdjust="spacingAndGlyphs" stroke="#06ad50" stroke-width="0.25">192.5W</text>
<text x="395.00" y="386.30" font-size="13" fill="#06ad50" text-anchor="start" font-weight="normal" textLength="28.80" lengthAdjust="spacingAndGlyphs" stroke="#06ad50" stroke-width="0.3">2.5M</text>
<text x="465.80" y="386.30" font-size="13" fill="#06ad50" text-anchor="start" font-weight="normal" textLength="34.30" lengthAdjust="spacingAndGlyphs" stroke="#06ad50" stroke-width="0.3">275W</text>
<text x="395.00" y="413.00" font-size="13" fill="#06ad50" text-anchor="start" font-weight="normal" textLength="28.80" lengthAdjust="spacingAndGlyphs" stroke="#06ad50" stroke-width="0.3">2.5M</text>
<text x="465.80" y="413.00" font-size="13" fill="#06ad50" text-anchor="start" font-weight="normal" textLength="34.30" lengthAdjust="spacingAndGlyphs" stroke="#06ad50" stroke-width="0.3">275W</text>
<text x="395.00" y="439.70" font-size="13" fill="#06ad50" text-anchor="start" font-weight="normal" textLength="28.80" lengthAdjust="spacingAndGlyphs" stroke="#06ad50" stroke-width="0.3">2.5M</text>
<text x="465.80" y="439.70" font-size="13" fill="#06ad50" text-anchor="start" font-weight="normal" textLength="34.30" lengthAdjust="spacingAndGlyphs" stroke="#06ad50" stroke-width="0.3">275W</text>
<text x="395.00" y="466.30" font-size="13" fill="#06ad50" text-anchor="start" font-weight="normal" textLength="28.80" lengthAdjust="spacingAndGlyphs" stroke="#06ad50" stroke-width="0.3">2.5M</text>
<text x="465.80" y="466.30" font-size="13" fill="#06ad50" text-anchor="start" font-weight="normal" textLength="34.30" lengthAdjust="spacingAndGlyphs" stroke="#06ad50" stroke-width="0.3">275W</text>
<text x="399.30" y="494.20" font-size="8" fill="#06ad50" text-anchor="start" font-weight="normal" textLength="53.20" lengthAdjust="spacingAndGlyphs" stroke="#06ad50" stroke-width="0.2">1.25M 137.5W</text>
<text x="399.30" y="521.00" font-size="8" fill="#06ad50" text-anchor="start" font-weight="normal" textLength="53.20" lengthAdjust="spacingAndGlyphs" stroke="#06ad50" stroke-width="0.2">1.25M 137.5W</text>
<g fill="none" stroke="#8a45b8" stroke-width="1.3">
<rect x="532.5" y="282.5" width="25.50" height="160.5"/>
<rect x="559.6" y="282.5" width="24.90" height="160.5"/>
<rect x="586.3" y="282.5" width="24.50" height="160.5"/>
<rect x="612.6" y="282.5" width="24.90" height="160.5"/>
</g>
<text x="540.40" y="286.00" font-size="13" fill="#8a45b8" text-anchor="start" font-weight="normal" transform="rotate(90 540.40 286.00)" textLength="28.80" lengthAdjust="spacingAndGlyphs" stroke="#8a45b8" stroke-width="0.3">3.5M</text>
<text x="540.40" y="405.00" font-size="13" fill="#8a45b8" text-anchor="start" font-weight="normal" transform="rotate(90 540.40 405.00)" textLength="35.00" lengthAdjust="spacingAndGlyphs" stroke="#8a45b8" stroke-width="0.3">385W</text>
<text x="566.70" y="286.00" font-size="13" fill="#8a45b8" text-anchor="start" font-weight="normal" transform="rotate(90 566.70 286.00)" textLength="28.80" lengthAdjust="spacingAndGlyphs" stroke="#8a45b8" stroke-width="0.3">3.5M</text>
<text x="566.70" y="405.00" font-size="13" fill="#8a45b8" text-anchor="start" font-weight="normal" transform="rotate(90 566.70 405.00)" textLength="35.00" lengthAdjust="spacingAndGlyphs" stroke="#8a45b8" stroke-width="0.3">385W</text>
<text x="593.40" y="286.00" font-size="13" fill="#8a45b8" text-anchor="start" font-weight="normal" transform="rotate(90 593.40 286.00)" textLength="28.80" lengthAdjust="spacingAndGlyphs" stroke="#8a45b8" stroke-width="0.3">3.5M</text>
<text x="593.40" y="405.00" font-size="13" fill="#8a45b8" text-anchor="start" font-weight="normal" transform="rotate(90 593.40 405.00)" textLength="35.00" lengthAdjust="spacingAndGlyphs" stroke="#8a45b8" stroke-width="0.3">385W</text>
<text x="619.90" y="286.00" font-size="13" fill="#8a45b8" text-anchor="start" font-weight="normal" transform="rotate(90 619.90 286.00)" textLength="28.80" lengthAdjust="spacingAndGlyphs" stroke="#8a45b8" stroke-width="0.3">3.5M</text>
<text x="619.90" y="405.00" font-size="13" fill="#8a45b8" text-anchor="start" font-weight="normal" transform="rotate(90 619.90 405.00)" textLength="35.00" lengthAdjust="spacingAndGlyphs" stroke="#8a45b8" stroke-width="0.3">385W</text>
<line x1="197.50" y1="81.80" x2="197.50" y2="528.00" stroke="#00ee00" stroke-width="1.1" />
<polygon points="197.50,81.80 199.60,90.80 195.40,90.80" fill="#00ee00" />
<polygon points="197.50,528.00 195.40,519.00 199.60,519.00" fill="#00ee00" />
<line x1="193.00" y1="81.80" x2="207.50" y2="81.80" stroke="#00ee00" stroke-width="1.1" />
<line x1="193.00" y1="528.00" x2="207.50" y2="528.00" stroke="#00ee00" stroke-width="1.1" />
<line x1="194.00" y1="70.90" x2="212.70" y2="70.90" stroke="#00ee00" stroke-width="1.1" />
<polygon points="212.70,70.90 203.70,73.00 203.70,68.80" fill="#00ee00" />
<line x1="212.70" y1="66.00" x2="212.70" y2="76.60" stroke="#00ee00" stroke-width="1.1" />
<line x1="261.20" y1="64.30" x2="363.80" y2="64.30" stroke="#00ee00" stroke-width="1.1" />
<polygon points="261.20,64.30 270.20,62.20 270.20,66.40" fill="#00ee00" />
<polygon points="363.80,64.30 354.80,66.40 354.80,62.20" fill="#00ee00" />
<line x1="261.20" y1="59.80" x2="261.20" y2="77.30" stroke="#00ee00" stroke-width="1.1" />
<line x1="363.80" y1="59.80" x2="363.80" y2="77.30" stroke="#00ee00" stroke-width="1.1" />
<line x1="363.80" y1="59.80" x2="363.80" y2="77.00" stroke="#00ee00" stroke-width="1.1" />
<line x1="261.20" y1="70.90" x2="279.80" y2="70.90" stroke="#00ee00" stroke-width="1.1" />
<line x1="270.10" y1="64.30" x2="270.10" y2="81.80" stroke="#00ee00" stroke-width="1.1" />
<polygon points="270.10,81.80 268.00,72.80 272.20,72.80" fill="#00ee00" />
<line x1="270.10" y1="118.10" x2="270.10" y2="130.00" stroke="#00ee00" stroke-width="1.1" />
<polygon points="270.10,118.10 272.20,127.10 268.00,127.10" fill="#00ee00" />
<line x1="261.20" y1="167.20" x2="307.00" y2="167.20" stroke="#00ee00" stroke-width="1.1" />
<polygon points="261.20,167.20 267.40,165.20 267.40,169.20" fill="#00ee00" />
<polygon points="307.00,167.20 300.80,169.20 300.80,165.20" fill="#00ee00" />
<line x1="261.20" y1="163.50" x2="261.20" y2="171.00" stroke="#00ee00" stroke-width="1.1" />
<line x1="307.00" y1="163.50" x2="307.00" y2="171.00" stroke="#00ee00" stroke-width="1.1" />
<line x1="299.60" y1="155.60" x2="299.60" y2="201.30" stroke="#00ee00" stroke-width="1.1" />
<polygon points="299.60,155.60 301.60,161.80 297.60,161.80" fill="#00ee00" />
<polygon points="299.60,201.30 297.60,195.10 301.60,195.10" fill="#00ee00" />
<line x1="296.00" y1="155.60" x2="303.00" y2="155.60" stroke="#00ee00" stroke-width="1.1" />
<line x1="296.00" y1="201.30" x2="303.00" y2="201.30" stroke="#00ee00" stroke-width="1.1" />
<line x1="391.70" y1="81.80" x2="391.70" y2="278.60" stroke="#00ee00" stroke-width="1.1" />
<polygon points="391.70,81.80 393.80,90.80 389.60,90.80" fill="#00ee00" />
<polygon points="391.70,278.60 389.60,269.60 393.80,269.60" fill="#00ee00" />
<line x1="387.70" y1="81.80" x2="395.70" y2="81.80" stroke="#00ee00" stroke-width="1.1" />
<line x1="387.70" y1="278.60" x2="395.70" y2="278.60" stroke="#00ee00" stroke-width="1.1" />
<line x1="368.50" y1="278.60" x2="396.40" y2="278.60" stroke="#00ee00" stroke-width="1.1" />
<line x1="363.70" y1="270.80" x2="506.20" y2="270.80" stroke="#00ee00" stroke-width="1.1" />
<polygon points="363.70,270.80 372.70,268.70 372.70,272.90" fill="#00ee00" />
<polygon points="506.20,270.80 497.20,272.90 497.20,268.70" fill="#00ee00" />
<line x1="363.70" y1="266.60" x2="363.70" y2="274.80" stroke="#00ee00" stroke-width="1.1" />
<line x1="506.20" y1="266.60" x2="506.20" y2="274.80" stroke="#00ee00" stroke-width="1.1" />
<line x1="470.80" y1="156.80" x2="587.60" y2="156.80" stroke="#00ee00" stroke-width="1.1" />
<polygon points="470.80,156.80 479.80,154.70 479.80,158.90" fill="#00ee00" />
<polygon points="587.60,156.80 578.60,158.90 578.60,154.70" fill="#00ee00" />
<line x1="470.80" y1="151.80" x2="470.80" y2="165.80" stroke="#00ee00" stroke-width="1.1" />
<line x1="587.60" y1="151.80" x2="587.60" y2="165.80" stroke="#00ee00" stroke-width="1.1" />
<line x1="605.00" y1="170.80" x2="605.00" y2="262.00" stroke="#00ee00" stroke-width="1.1" />
<polygon points="605.00,170.80 607.10,179.80 602.90,179.80" fill="#00ee00" />
<polygon points="605.00,262.00 602.90,253.00 607.10,253.00" fill="#00ee00" />
<line x1="592.50" y1="170.80" x2="609.50" y2="170.80" stroke="#00ee00" stroke-width="1.1" />
<line x1="592.50" y1="262.00" x2="609.50" y2="262.00" stroke="#00ee00" stroke-width="1.1" />
<line x1="526.80" y1="270.00" x2="641.80" y2="270.00" stroke="#00ee00" stroke-width="1.1" />
<polygon points="526.80,270.00 535.80,267.90 535.80,272.10" fill="#00ee00" />
<polygon points="641.80,270.00 632.80,272.10 632.80,267.90" fill="#00ee00" />
<line x1="526.80" y1="265.00" x2="526.80" y2="275.00" stroke="#00ee00" stroke-width="1.1" />
<line x1="641.80" y1="265.00" x2="641.80" y2="275.00" stroke="#00ee00" stroke-width="1.1" />
<line x1="623.80" y1="259.50" x2="686.00" y2="259.50" stroke="#00ee00" stroke-width="1.1" />
<polygon points="641.80,259.50 632.80,261.60 632.80,257.40" fill="#00ee00" />
<polygon points="670.20,259.50 679.20,257.40 679.20,261.60" fill="#00ee00" />
<line x1="641.80" y1="255.00" x2="641.80" y2="275.00" stroke="#00ee00" stroke-width="1.1" />
<line x1="670.20" y1="255.00" x2="670.20" y2="275.00" stroke="#00ee00" stroke-width="1.1" />
<line x1="514.70" y1="260.00" x2="514.70" y2="278.60" stroke="#00ee00" stroke-width="1.1" />
<polygon points="514.70,278.60 512.60,269.60 516.80,269.60" fill="#00ee00" />
<line x1="510.50" y1="278.60" x2="518.80" y2="278.60" stroke="#00ee00" stroke-width="1.1" />
<line x1="510.50" y1="327.00" x2="518.80" y2="327.00" stroke="#00ee00" stroke-width="1.1" />
<polygon points="514.70,327.00 516.80,336.00 512.60,336.00" fill="#00ee00" />
<line x1="514.70" y1="327.00" x2="514.70" y2="340.00" stroke="#00ee00" stroke-width="1.1" />
<rect x="511.00" y="286.00" width="7.40" height="35.60" fill="#ffffff" />
<line x1="516.80" y1="340.00" x2="516.80" y2="477.30" stroke="#00ee00" stroke-width="1.1" />
<polygon points="516.80,340.00 518.90,349.00 514.70,349.00" fill="#00ee00" />
<polygon points="516.80,477.30 514.70,468.30 518.90,468.30" fill="#00ee00" />
<line x1="510.80" y1="340.00" x2="521.30" y2="340.00" stroke="#00ee00" stroke-width="1.1" />
<line x1="510.80" y1="477.30" x2="521.30" y2="477.30" stroke="#00ee00" stroke-width="1.1" />
<line x1="684.50" y1="279.50" x2="684.50" y2="446.30" stroke="#00ee00" stroke-width="1.1" />
<polygon points="684.50,279.50 686.60,288.50 682.40,288.50" fill="#00ee00" />
<polygon points="684.50,446.30 682.40,437.30 686.60,437.30" fill="#00ee00" />
<line x1="674.00" y1="279.50" x2="688.70" y2="279.50" stroke="#00ee00" stroke-width="1.1" />
<line x1="674.00" y1="446.30" x2="688.70" y2="446.30" stroke="#00ee00" stroke-width="1.1" />
<line x1="526.80" y1="467.50" x2="669.60" y2="467.50" stroke="#00ee00" stroke-width="1.1" />
<polygon points="526.80,467.50 535.80,465.40 535.80,469.60" fill="#00ee00" />
<polygon points="669.60,467.50 660.60,469.60 660.60,465.40" fill="#00ee00" />
<line x1="526.80" y1="452.50" x2="526.80" y2="471.30" stroke="#00ee00" stroke-width="1.1" />
<line x1="669.60" y1="452.50" x2="669.60" y2="471.30" stroke="#00ee00" stroke-width="1.1" />
<line x1="375.80" y1="339.50" x2="375.80" y2="532.00" stroke="#00ee00" stroke-width="1.1" />
<polygon points="375.80,339.50 377.90,348.50 373.70,348.50" fill="#00ee00" />
<polygon points="375.80,532.00 373.70,523.00 377.90,523.00" fill="#00ee00" />
<line x1="371.10" y1="339.50" x2="379.00" y2="339.50" stroke="#00ee00" stroke-width="1.1" />
<line x1="371.10" y1="532.00" x2="379.00" y2="532.00" stroke="#00ee00" stroke-width="1.1" />
<line x1="465.00" y1="484.50" x2="506.30" y2="484.50" stroke="#00ee00" stroke-width="1.1" />
<polygon points="465.00,484.50 474.00,482.40 474.00,486.60" fill="#00ee00" />
<polygon points="506.30,484.50 497.30,486.60 497.30,482.40" fill="#00ee00" />
<line x1="465.00" y1="480.00" x2="465.00" y2="487.50" stroke="#00ee00" stroke-width="1.1" />
<line x1="506.30" y1="480.00" x2="506.30" y2="487.50" stroke="#00ee00" stroke-width="1.1" />
<line x1="382.50" y1="560.00" x2="465.00" y2="560.00" stroke="#00ee00" stroke-width="1.1" />
<polygon points="382.50,560.00 391.50,557.90 391.50,562.10" fill="#00ee00" />
<polygon points="465.00,560.00 456.00,562.10 456.00,557.90" fill="#00ee00" />
<line x1="382.50" y1="536.00" x2="382.50" y2="563.80" stroke="#00ee00" stroke-width="1.1" />
<line x1="465.00" y1="536.00" x2="465.00" y2="563.80" stroke="#00ee00" stroke-width="1.1" />
<line x1="194.50" y1="535.80" x2="212.60" y2="535.80" stroke="#00ee00" stroke-width="1.1" />
<polygon points="212.60,535.80 203.60,537.90 203.60,533.70" fill="#00ee00" />
<line x1="212.60" y1="532.50" x2="212.60" y2="549.50" stroke="#00ee00" stroke-width="1.1" />
<line x1="212.60" y1="545.50" x2="363.80" y2="545.50" stroke="#00ee00" stroke-width="1.1" />
<polygon points="212.60,545.50 221.60,543.40 221.60,547.60" fill="#00ee00" />
<polygon points="363.80,545.50 354.80,547.60 354.80,543.40" fill="#00ee00" />
<line x1="230.80" y1="532.50" x2="230.80" y2="565.00" stroke="#00ee00" stroke-width="1.1" />
<line x1="363.80" y1="532.50" x2="363.80" y2="565.00" stroke="#00ee00" stroke-width="1.1" />
<line x1="230.80" y1="535.80" x2="248.80" y2="535.80" stroke="#00ee00" stroke-width="1.1" />
<polygon points="230.80,535.80 239.80,533.70 239.80,537.90" fill="#00ee00" />
<line x1="230.80" y1="562.50" x2="363.80" y2="562.50" stroke="#00ee00" stroke-width="1.1" />
<polygon points="230.80,562.50 239.80,560.40 239.80,564.60" fill="#00ee00" />
<polygon points="363.80,562.50 354.80,564.60 354.80,560.40" fill="#00ee00" />
<text x="236.90" y="73.30" font-size="7" fill="#000" text-anchor="middle" font-weight="bold" textLength="24.00" lengthAdjust="spacingAndGlyphs" >1060.00</text>
<rect x="298.50" y="60.85" width="27.00" height="7.35" fill="#9b9b9b" />
<text x="312.00" y="66.80" font-size="7" fill="#000" text-anchor="middle" font-weight="bold" textLength="25.00" lengthAdjust="spacingAndGlyphs" >2240.00</text>
<text x="272.60" y="100.30" font-size="6.5" fill="#000" text-anchor="middle" font-weight="bold" transform="rotate(-90 272.60 100.30)" textLength="21.00" lengthAdjust="spacingAndGlyphs" >800.00</text>
<rect x="271.50" y="164.60" width="25.10" height="5.20" fill="#f7f5f0" />
<rect x="272.60" y="165.30" width="6.80" height="3.70" fill="#111" opacity="0.85"/>
<rect x="280.00" y="168.00" width="1.00" height="1.60" fill="#111" />
<text x="288.90" y="169.00" font-size="4.8" fill="#000" text-anchor="middle" font-weight="bold" textLength="14.20" lengthAdjust="spacingAndGlyphs" >1050.00</text>
<rect x="297.20" y="165.60" width="4.80" height="24.80" fill="#f7f5f0" />
<rect x="297.80" y="182.60" width="3.60" height="7.00" fill="#111" opacity="0.85"/>
<rect x="300.40" y="181.00" width="1.20" height="1.00" fill="#111" />
<text x="301.30" y="173.40" font-size="4.8" fill="#000" text-anchor="middle" font-weight="bold" transform="rotate(-90 301.30 173.40)" textLength="14.20" lengthAdjust="spacingAndGlyphs" >1050.00</text>
<rect x="388.76" y="167.50" width="6.26" height="26.00" fill="#e6e4df" />
<text x="394.20" y="180.50" font-size="6.8" fill="#000" text-anchor="middle" font-weight="bold" transform="rotate(-90 394.20 180.50)" textLength="24.00" lengthAdjust="spacingAndGlyphs" >4300.00</text>
<rect x="421.50" y="267.35" width="27.00" height="7.35" fill="#ffffff" />
<text x="435.00" y="273.30" font-size="7" fill="#000" text-anchor="middle" font-weight="bold" textLength="25.00" lengthAdjust="spacingAndGlyphs" >3100.00</text>
<rect x="515.30" y="153.35" width="27.00" height="7.35" fill="#e3ded2" />
<text x="528.80" y="159.30" font-size="7" fill="#000" text-anchor="middle" font-weight="bold" textLength="25.00" lengthAdjust="spacingAndGlyphs" >2550.00</text>
<rect x="602.06" y="203.00" width="6.26" height="26.00" fill="#e6e4df" />
<text x="607.50" y="216.00" font-size="6.8" fill="#000" text-anchor="middle" font-weight="bold" transform="rotate(-90 607.50 216.00)" textLength="24.00" lengthAdjust="spacingAndGlyphs" >2000.00</text>
<rect x="566.75" y="265.55" width="35.50" height="9.45" fill="#9b9b9b" />
<text x="584.50" y="273.20" font-size="9" fill="#000" text-anchor="middle" font-weight="bold" textLength="33.50" lengthAdjust="spacingAndGlyphs" >2500.00</text>
<rect x="643.45" y="256.05" width="23.50" height="7.35" fill="#e6e4df" />
<text x="655.20" y="262.00" font-size="7" fill="#000" text-anchor="middle" font-weight="bold" textLength="21.50" lengthAdjust="spacingAndGlyphs" >600.00</text>
<text x="517.20" y="303.70" font-size="6.5" fill="#000" text-anchor="middle" font-weight="bold" transform="rotate(-90 517.20 303.70)" textLength="23.00" lengthAdjust="spacingAndGlyphs" >1050.00</text>
<rect x="513.86" y="395.80" width="6.26" height="26.00" fill="#9b9b9b" />
<text x="519.30" y="408.80" font-size="6.8" fill="#000" text-anchor="middle" font-weight="bold" transform="rotate(-90 519.30 408.80)" textLength="24.00" lengthAdjust="spacingAndGlyphs" >3000.00</text>
<rect x="681.56" y="349.50" width="6.26" height="26.00" fill="#9b9b9b" />
<text x="687.00" y="362.50" font-size="6.8" fill="#000" text-anchor="middle" font-weight="bold" transform="rotate(-90 687.00 362.50)" textLength="24.00" lengthAdjust="spacingAndGlyphs" >3650.00</text>
<rect x="584.50" y="464.05" width="27.00" height="7.35" fill="#e3ded2" />
<text x="598.00" y="470.00" font-size="7" fill="#000" text-anchor="middle" font-weight="bold" textLength="25.00" lengthAdjust="spacingAndGlyphs" >3100.00</text>
<rect x="372.86" y="423.30" width="6.26" height="26.00" fill="#9b9b9b" />
<text x="378.30" y="436.30" font-size="6.8" fill="#000" text-anchor="middle" font-weight="bold" transform="rotate(-90 378.30 436.30)" textLength="24.00" lengthAdjust="spacingAndGlyphs" >4200.00</text>
<rect x="479.30" y="482.74" width="13.00" height="3.78" fill="#9b9b9b" />
<text x="485.80" y="485.80" font-size="3.6" fill="#000" text-anchor="middle" font-weight="bold" textLength="11.00" lengthAdjust="spacingAndGlyphs" >800.00</text>
<rect x="411.80" y="556.98" width="24.00" height="6.82" fill="#ffffff" />
<text x="423.80" y="562.50" font-size="6.5" fill="#000" text-anchor="middle" font-weight="bold" textLength="22.00" lengthAdjust="spacingAndGlyphs" >1800.00</text>
<text x="182.00" y="538.50" font-size="6.5" fill="#000" text-anchor="middle" font-weight="bold" textLength="21.00" lengthAdjust="spacingAndGlyphs" >400.00</text>
<rect x="274.80" y="542.05" width="27.00" height="7.35" fill="#ffffff" />
<text x="288.30" y="548.00" font-size="7" fill="#000" text-anchor="middle" font-weight="bold" textLength="25.00" lengthAdjust="spacingAndGlyphs" >3300.00</text>
<rect x="286.50" y="560.12" width="22.00" height="5.77" fill="#ffffff" />
<text x="297.50" y="564.80" font-size="5.5" fill="#000" text-anchor="middle" font-weight="bold" textLength="20.00" lengthAdjust="spacingAndGlyphs" >2900.00</text>
<rect x="194.56" y="292.00" width="6.26" height="26.00" fill="#9b9b9b" />
<text x="200.00" y="305.00" font-size="6.8" fill="#000" text-anchor="middle" font-weight="bold" transform="rotate(-90 200.00 305.00)" textLength="24.00" lengthAdjust="spacingAndGlyphs" >9750.00</text>
<line x1="193.00" y1="17.50" x2="688.00" y2="17.50" stroke="#3a3a3a" stroke-width="0.9" />
<line x1="193.00" y1="13.70" x2="193.00" y2="28.00" stroke="#3a3a3a" stroke-width="0.9" />
<line x1="190.50" y1="20.00" x2="195.50" y2="15.00" stroke="#222" stroke-width="1.2" />
<line x1="688.00" y1="13.70" x2="688.00" y2="28.00" stroke="#3a3a3a" stroke-width="0.9" />
<line x1="685.50" y1="20.00" x2="690.50" y2="15.00" stroke="#222" stroke-width="1.2" />
<line x1="204.50" y1="31.75" x2="273.00" y2="31.75" stroke="#3a3a3a" stroke-width="0.9" />
<line x1="204.50" y1="28.70" x2="204.50" y2="42.50" stroke="#3a3a3a" stroke-width="0.9" />
<line x1="202.00" y1="34.25" x2="207.00" y2="29.25" stroke="#222" stroke-width="1.2" />
<line x1="273.00" y1="28.70" x2="273.00" y2="42.50" stroke="#3a3a3a" stroke-width="0.9" />
<line x1="270.50" y1="34.25" x2="275.50" y2="29.25" stroke="#222" stroke-width="1.2" />
<line x1="278.30" y1="31.75" x2="396.20" y2="31.75" stroke="#3a3a3a" stroke-width="0.9" />
<line x1="278.30" y1="28.70" x2="278.30" y2="42.50" stroke="#3a3a3a" stroke-width="0.9" />
<line x1="275.80" y1="34.25" x2="280.80" y2="29.25" stroke="#222" stroke-width="1.2" />
<line x1="396.20" y1="28.70" x2="396.20" y2="42.50" stroke="#3a3a3a" stroke-width="0.9" />
<line x1="393.70" y1="34.25" x2="398.70" y2="29.25" stroke="#222" stroke-width="1.2" />
<line x1="406.80" y1="31.75" x2="454.30" y2="31.75" stroke="#3a3a3a" stroke-width="0.9" />
<line x1="406.80" y1="28.70" x2="406.80" y2="42.50" stroke="#3a3a3a" stroke-width="0.9" />
<line x1="404.30" y1="34.25" x2="409.30" y2="29.25" stroke="#222" stroke-width="1.2" />
<line x1="454.30" y1="28.70" x2="454.30" y2="42.50" stroke="#3a3a3a" stroke-width="0.9" />
<line x1="451.80" y1="34.25" x2="456.80" y2="29.25" stroke="#222" stroke-width="1.2" />
<line x1="465.30" y1="31.75" x2="590.30" y2="31.75" stroke="#3a3a3a" stroke-width="0.9" />
<line x1="465.30" y1="28.70" x2="465.30" y2="42.50" stroke="#3a3a3a" stroke-width="0.9" />
<line x1="462.80" y1="34.25" x2="467.80" y2="29.25" stroke="#222" stroke-width="1.2" />
<line x1="590.30" y1="28.70" x2="590.30" y2="42.50" stroke="#3a3a3a" stroke-width="0.9" />
<line x1="587.80" y1="34.25" x2="592.80" y2="29.25" stroke="#222" stroke-width="1.2" />
<line x1="601.00" y1="31.75" x2="676.50" y2="31.75" stroke="#3a3a3a" stroke-width="0.9" />
<line x1="601.00" y1="28.70" x2="601.00" y2="42.50" stroke="#3a3a3a" stroke-width="0.9" />
<line x1="598.50" y1="34.25" x2="603.50" y2="29.25" stroke="#222" stroke-width="1.2" />
<line x1="676.50" y1="28.70" x2="676.50" y2="42.50" stroke="#3a3a3a" stroke-width="0.9" />
<line x1="674.00" y1="34.25" x2="679.00" y2="29.25" stroke="#222" stroke-width="1.2" />
<text x="441.80" y="15.60" font-size="9.2" fill="#111" text-anchor="middle" font-weight="normal" textLength="25.00" lengthAdjust="spacingAndGlyphs" >10820</text>
<text x="239.30" y="30.50" font-size="9.2" fill="#111" text-anchor="middle" font-weight="normal" textLength="19.50" lengthAdjust="spacingAndGlyphs" >1501</text>
<text x="337.20" y="30.50" font-size="9.2" fill="#111" text-anchor="middle" font-weight="normal" textLength="19.50" lengthAdjust="spacingAndGlyphs" >2567</text>
<text x="430.80" y="30.50" font-size="9.2" fill="#111" text-anchor="middle" font-weight="normal" textLength="19.50" lengthAdjust="spacingAndGlyphs" >1046</text>
<text x="527.50" y="30.50" font-size="9.2" fill="#111" text-anchor="middle" font-weight="normal" textLength="19.50" lengthAdjust="spacingAndGlyphs" >2727</text>
<text x="639.30" y="30.50" font-size="9.2" fill="#111" text-anchor="middle" font-weight="normal" textLength="19.50" lengthAdjust="spacingAndGlyphs" >1659</text>
<line x1="205.00" y1="575.50" x2="465.00" y2="575.50" stroke="#3a3a3a" stroke-width="0.9" />
<line x1="205.00" y1="564.30" x2="205.00" y2="578.30" stroke="#3a3a3a" stroke-width="0.9" />
<line x1="202.50" y1="578.00" x2="207.50" y2="573.00" stroke="#222" stroke-width="1.2" />
<line x1="465.00" y1="564.30" x2="465.00" y2="578.30" stroke="#3a3a3a" stroke-width="0.9" />
<line x1="462.50" y1="578.00" x2="467.50" y2="573.00" stroke="#222" stroke-width="1.2" />
<line x1="475.50" y1="575.50" x2="508.00" y2="575.50" stroke="#3a3a3a" stroke-width="0.9" />
<line x1="475.50" y1="564.30" x2="475.50" y2="578.30" stroke="#3a3a3a" stroke-width="0.9" />
<line x1="473.00" y1="578.00" x2="478.00" y2="573.00" stroke="#222" stroke-width="1.2" />
<line x1="508.00" y1="564.30" x2="508.00" y2="578.30" stroke="#3a3a3a" stroke-width="0.9" />
<line x1="505.50" y1="578.00" x2="510.50" y2="573.00" stroke="#222" stroke-width="1.2" />
<line x1="519.00" y1="575.50" x2="676.00" y2="575.50" stroke="#3a3a3a" stroke-width="0.9" />
<line x1="519.00" y1="564.30" x2="519.00" y2="578.30" stroke="#3a3a3a" stroke-width="0.9" />
<line x1="516.50" y1="578.00" x2="521.50" y2="573.00" stroke="#222" stroke-width="1.2" />
<line x1="676.00" y1="564.30" x2="676.00" y2="578.30" stroke="#3a3a3a" stroke-width="0.9" />
<line x1="673.50" y1="578.00" x2="678.50" y2="573.00" stroke="#222" stroke-width="1.2" />
<line x1="193.80" y1="590.00" x2="688.30" y2="590.00" stroke="#3a3a3a" stroke-width="0.9" />
<line x1="193.80" y1="579.00" x2="193.80" y2="592.70" stroke="#3a3a3a" stroke-width="0.9" />
<line x1="191.30" y1="592.50" x2="196.30" y2="587.50" stroke="#222" stroke-width="1.2" />
<line x1="688.30" y1="579.00" x2="688.30" y2="592.70" stroke="#3a3a3a" stroke-width="0.9" />
<line x1="685.80" y1="592.50" x2="690.80" y2="587.50" stroke="#222" stroke-width="1.2" />
<text x="334.50" y="573.60" font-size="9.2" fill="#111" text-anchor="middle" font-weight="normal" textLength="19.50" lengthAdjust="spacingAndGlyphs" >5697</text>
<text x="492.60" y="573.60" font-size="9.2" fill="#111" text-anchor="middle" font-weight="normal" textLength="14.50" lengthAdjust="spacingAndGlyphs" >713</text>
<text x="598.40" y="573.60" font-size="9.2" fill="#111" text-anchor="middle" font-weight="normal" textLength="19.50" lengthAdjust="spacingAndGlyphs" >3450</text>
<text x="441.80" y="588.30" font-size="9.2" fill="#111" text-anchor="middle" font-weight="normal" textLength="25.00" lengthAdjust="spacingAndGlyphs" >10820</text>
<line x1="143.80" y1="60.00" x2="143.80" y2="547.00" stroke="#3a3a3a" stroke-width="0.9" />
<line x1="139.50" y1="60.00" x2="155.00" y2="60.00" stroke="#3a3a3a" stroke-width="0.9" />
<line x1="141.30" y1="57.50" x2="146.30" y2="62.50" stroke="#222" stroke-width="1.2" />
<line x1="139.50" y1="547.00" x2="155.00" y2="547.00" stroke="#3a3a3a" stroke-width="0.9" />
<line x1="141.30" y1="544.50" x2="146.30" y2="549.50" stroke="#222" stroke-width="1.2" />
<line x1="158.00" y1="70.75" x2="158.00" y2="451.30" stroke="#3a3a3a" stroke-width="0.9" />
<line x1="153.80" y1="70.75" x2="169.30" y2="70.75" stroke="#3a3a3a" stroke-width="0.9" />
<line x1="155.50" y1="68.25" x2="160.50" y2="73.25" stroke="#222" stroke-width="1.2" />
<line x1="153.80" y1="451.30" x2="169.30" y2="451.30" stroke="#3a3a3a" stroke-width="0.9" />
<line x1="155.50" y1="448.80" x2="160.50" y2="453.80" stroke="#222" stroke-width="1.2" />
<line x1="158.00" y1="462.00" x2="158.00" y2="535.80" stroke="#3a3a3a" stroke-width="0.9" />
<line x1="153.80" y1="462.00" x2="169.30" y2="462.00" stroke="#3a3a3a" stroke-width="0.9" />
<line x1="155.50" y1="459.50" x2="160.50" y2="464.50" stroke="#222" stroke-width="1.2" />
<line x1="153.80" y1="535.80" x2="169.30" y2="535.80" stroke="#3a3a3a" stroke-width="0.9" />
<line x1="155.50" y1="533.30" x2="160.50" y2="538.30" stroke="#222" stroke-width="1.2" />
<text x="142.50" y="302.00" font-size="9.2" fill="#111" text-anchor="middle" font-weight="normal" transform="rotate(-90 142.50 302.00)" textLength="25.00" lengthAdjust="spacingAndGlyphs" >10643</text>
<text x="156.80" y="260.50" font-size="9.2" fill="#111" text-anchor="middle" font-weight="normal" transform="rotate(-90 156.80 260.50)" textLength="19.50" lengthAdjust="spacingAndGlyphs" >8331</text>
<text x="156.80" y="498.70" font-size="9.2" fill="#111" text-anchor="middle" font-weight="normal" transform="rotate(-90 156.80 498.70)" textLength="19.50" lengthAdjust="spacingAndGlyphs" >1592</text>
<line x1="723.70" y1="137.00" x2="723.70" y2="267.00" stroke="#3a3a3a" stroke-width="0.9" />
<line x1="712.50" y1="137.00" x2="727.20" y2="137.00" stroke="#3a3a3a" stroke-width="0.9" />
<line x1="721.20" y1="134.50" x2="726.20" y2="139.50" stroke="#222" stroke-width="1.2" />
<line x1="712.50" y1="267.00" x2="727.20" y2="267.00" stroke="#3a3a3a" stroke-width="0.9" />
<line x1="721.20" y1="264.50" x2="726.20" y2="269.50" stroke="#222" stroke-width="1.2" />
<line x1="723.70" y1="272.50" x2="723.70" y2="451.60" stroke="#3a3a3a" stroke-width="0.9" />
<line x1="712.50" y1="272.50" x2="727.20" y2="272.50" stroke="#3a3a3a" stroke-width="0.9" />
<line x1="721.20" y1="270.00" x2="726.20" y2="275.00" stroke="#222" stroke-width="1.2" />
<line x1="712.50" y1="451.60" x2="727.20" y2="451.60" stroke="#3a3a3a" stroke-width="0.9" />
<line x1="721.20" y1="449.10" x2="726.20" y2="454.10" stroke="#222" stroke-width="1.2" />
<line x1="723.70" y1="451.60" x2="723.70" y2="477.50" stroke="#3a3a3a" stroke-width="0.9" />
<line x1="712.50" y1="451.60" x2="727.20" y2="451.60" stroke="#3a3a3a" stroke-width="0.9" />
<line x1="721.20" y1="449.10" x2="726.20" y2="454.10" stroke="#222" stroke-width="1.2" />
<line x1="712.50" y1="477.50" x2="727.20" y2="477.50" stroke="#3a3a3a" stroke-width="0.9" />
<line x1="721.20" y1="475.00" x2="726.20" y2="480.00" stroke="#222" stroke-width="1.2" />
<line x1="723.70" y1="487.50" x2="723.70" y2="535.60" stroke="#3a3a3a" stroke-width="0.9" />
<line x1="712.50" y1="487.50" x2="727.20" y2="487.50" stroke="#3a3a3a" stroke-width="0.9" />
<line x1="721.20" y1="485.00" x2="726.20" y2="490.00" stroke="#222" stroke-width="1.2" />
<line x1="712.50" y1="535.60" x2="727.20" y2="535.60" stroke="#3a3a3a" stroke-width="0.9" />
<line x1="721.20" y1="533.10" x2="726.20" y2="538.10" stroke="#222" stroke-width="1.2" />
<line x1="738.00" y1="126.30" x2="738.00" y2="547.00" stroke="#3a3a3a" stroke-width="0.9" />
<line x1="727.00" y1="126.30" x2="741.70" y2="126.30" stroke="#3a3a3a" stroke-width="0.9" />
<line x1="735.50" y1="123.80" x2="740.50" y2="128.80" stroke="#222" stroke-width="1.2" />
<line x1="727.00" y1="547.00" x2="741.70" y2="547.00" stroke="#3a3a3a" stroke-width="0.9" />
<line x1="735.50" y1="544.50" x2="740.50" y2="549.50" stroke="#222" stroke-width="1.2" />
<text x="722.00" y="202.00" font-size="9.2" fill="#111" text-anchor="middle" font-weight="normal" transform="rotate(-90 722.00 202.00)" textLength="19.50" lengthAdjust="spacingAndGlyphs" >2846</text>
<text x="722.00" y="362.00" font-size="9.2" fill="#111" text-anchor="middle" font-weight="normal" transform="rotate(-90 722.00 362.00)" textLength="19.50" lengthAdjust="spacingAndGlyphs" >3903</text>
<text x="722.00" y="469.50" font-size="9.2" fill="#111" text-anchor="middle" font-weight="normal" transform="rotate(-90 722.00 469.50)" textLength="14.50" lengthAdjust="spacingAndGlyphs" >305</text>
<text x="722.00" y="511.60" font-size="9.2" fill="#111" text-anchor="middle" font-weight="normal" transform="rotate(-90 722.00 511.60)" textLength="19.50" lengthAdjust="spacingAndGlyphs" >1047</text>
<text x="736.70" y="335.80" font-size="9.2" fill="#111" text-anchor="middle" font-weight="normal" transform="rotate(-90 736.70 335.80)" textLength="19.50" lengthAdjust="spacingAndGlyphs" >9182</text>
<line x1="0.00" y1="219.00" x2="280.16" y2="256.86" stroke="#000" stroke-width="1.3" />
<polygon points="297.50,259.20 279.72,260.13 280.60,253.59" fill="#000" />
<line x1="0.00" y1="471.50" x2="266.72" y2="411.82" stroke="#000" stroke-width="1.3" />
<polygon points="283.80,408.00 267.44,415.04 266.00,408.60" fill="#000" />
<line x1="883.00" y1="177.00" x2="546.14" y2="223.41" stroke="#000" stroke-width="1.3" />
<polygon points="528.80,225.80 545.69,220.14 546.59,226.68" fill="#000" />
<line x1="883.00" y1="388.00" x2="628.13" y2="351.76" stroke="#000" stroke-width="1.3" />
<polygon points="610.80,349.30 628.59,348.50 627.66,355.03" fill="#000" />
<line x1="469.70" y1="620.00" x2="432.16" y2="466.50" stroke="#000" stroke-width="1.3" />
<polygon points="428.00,449.50 435.36,465.71 428.95,467.28" fill="#000" />
<polyline points="7.8,620 7.8,3 871.2,3 871.2,620" fill="none" stroke="#2b2b2b" stroke-width="1.6"/>
<line x1="8.00" y1="619.50" x2="883.00" y2="619.50" stroke="#e8e8e8" stroke-width="1" />
<circle cx="30.6" cy="31.6" r="12.4" fill="none" stroke="#777" stroke-width="0.9"/>
<polygon points="30.6,14.7 21.4,48.2 30.6,36.9" fill="#7d7d7d"/>
<polygon points="30.6,14.7 39.6,48.2 30.6,36.9" fill="#6f6f6f"/>
<path d="M28.4 4V13.8M25.3 8H28.4M25 12.8L28.4 12M31.7 4V12Q31.7 13.3 33 13.3H35.2Q36 13.3 36 12M36 6.6L31.7 9.4" fill="none" stroke="#111" stroke-width="1.5"/>
</g></svg></div></body></html>
